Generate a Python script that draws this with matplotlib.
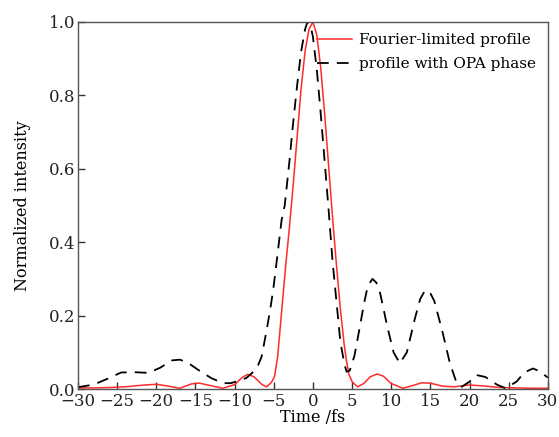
import matplotlib
matplotlib.use("Agg")
import matplotlib.pyplot as plt

# Fourier-limited profile
t_fl = [-30, -28, -26, -24, -22, -20, -18.5, -17, -15.5, -14.5, -13, -11.5,
        -10, -9, -8.3, -7.5, -6.5, -5.9, -5.3, -4.9, -4.5, -4, -3.5, -3, -2.5,
        -2, -1.5, -1, -0.5, 0, 0.5, 1, 1.5, 2, 2.5, 3, 3.5, 4, 4.3, 4.6, 5,
        5.7, 6.5, 7.3, 8.2, 9, 10, 11.5, 12.5, 13.9, 15, 16.5, 18, 20, 22,
        24, 26, 28, 30]
i_fl = [0.003, 0.003, 0.004, 0.006, 0.010, 0.013, 0.008, 0.002, 0.014, 0.016,
        0.009, 0.002, 0.012, 0.032, 0.040, 0.033, 0.012, 0.006, 0.018, 0.034,
        0.088, 0.21, 0.33, 0.44, 0.56, 0.69, 0.82, 0.92, 0.98, 1.0, 0.965,
        0.875, 0.75, 0.61, 0.47, 0.34, 0.22, 0.12, 0.075, 0.04, 0.02, 0.006,
        0.015, 0.033, 0.041, 0.035, 0.015, 0.002, 0.008, 0.017, 0.016, 0.008,
        0.006, 0.011, 0.008, 0.004, 0.003, 0.002, 0.002]

# profile with OPA phase
t_opa = [-30, -28, -26, -24.5, -23, -21, -19.5, -18, -17, -16, -14.5, -13,
         -11.5, -10.5, -9.5, -8.5, -7.8, -7, -6.55, -6, -5.5, -5.07, -4.5, -4,
         -3.6, -3, -2.5, -2, -1.5, -1, -0.7, -0.3, 0, 0.5, 1, 1.5, 2, 2.5, 3,
         3.5, 4, 4.3, 4.7, 5.3, 6, 6.5, 7.0, 7.6, 8.1, 8.6, 9.5, 10.3, 11.1,
         12, 13, 13.7, 14.3, 14.9, 15.5, 16.5, 17.5, 18.3, 19, 20, 20.9, 22,
         23.5, 24.6, 26, 27, 28.1, 29, 30]
i_opa = [0.005, 0.012, 0.030, 0.045, 0.046, 0.044, 0.058, 0.078, 0.080, 0.072,
         0.050, 0.030, 0.016, 0.016, 0.022, 0.030, 0.043, 0.065, 0.088, 0.15,
         0.21, 0.27, 0.37, 0.46, 0.50, 0.62, 0.73, 0.83, 0.92, 0.98, 1.0, 0.99,
         0.96, 0.87, 0.75, 0.62, 0.49, 0.35, 0.24, 0.13, 0.07, 0.047, 0.05,
         0.09, 0.17, 0.23, 0.28, 0.30, 0.29, 0.26, 0.17, 0.10, 0.07, 0.10,
         0.19, 0.245, 0.268, 0.265, 0.24, 0.16, 0.07, 0.02, 0.006, 0.02,
         0.038, 0.033, 0.012, 0.002, 0.02, 0.045, 0.056, 0.048, 0.031]

xticks = list(range(-30, 31, 5))
yticks = [0.0, 0.2, 0.4, 0.6, 0.8, 1.0]

plt.rcParams["font.family"] = ["DejaVu Serif"]
plt.rcParams["axes.unicode_minus"] = True

fig = plt.figure(figsize=(5.59, 4.37), dpi=100)
ax = fig.add_axes([0.1395, 0.1098, 0.8405, 0.8399])

ax.plot(t_fl, i_fl, color="#ff2a2a", lw=1.1, label="Fourier-limited profile")
ax.plot(t_opa, i_opa, color="black", lw=1.3, dashes=(6.5, 4.5),
        label="profile with OPA phase")

ax.set_xlim(-30, 30)
ax.set_ylim(0, 1.0)
ax.set_xticks(xticks)
ax.set_xticklabels([str(v).replace("-", "\u2212") for v in xticks])
ax.set_yticks(yticks)
ax.set_yticklabels([f"{v:.1f}" for v in yticks], va="center_baseline")
ax.tick_params(direction="in", length=5, width=1, labelsize=12, colors="#333333",
               labelcolor="#222222")
ax.tick_params(axis="x", pad=3)
ax.tick_params(axis="y", pad=2)
for s in ax.spines.values():
    s.set_color("#555555")
    s.set_linewidth(1.0)

ax.set_xlabel("Time /fs", fontsize=11.5, labelpad=-1)
ax.set_ylabel("Normalized intensity", fontsize=11.5, labelpad=13)

ax.legend(loc="upper right", frameon=False, fontsize=11, handlelength=2.3,
          handletextpad=0.45, borderaxespad=0.35, labelspacing=0.65)

fig.savefig("out.png", dpi=100)
